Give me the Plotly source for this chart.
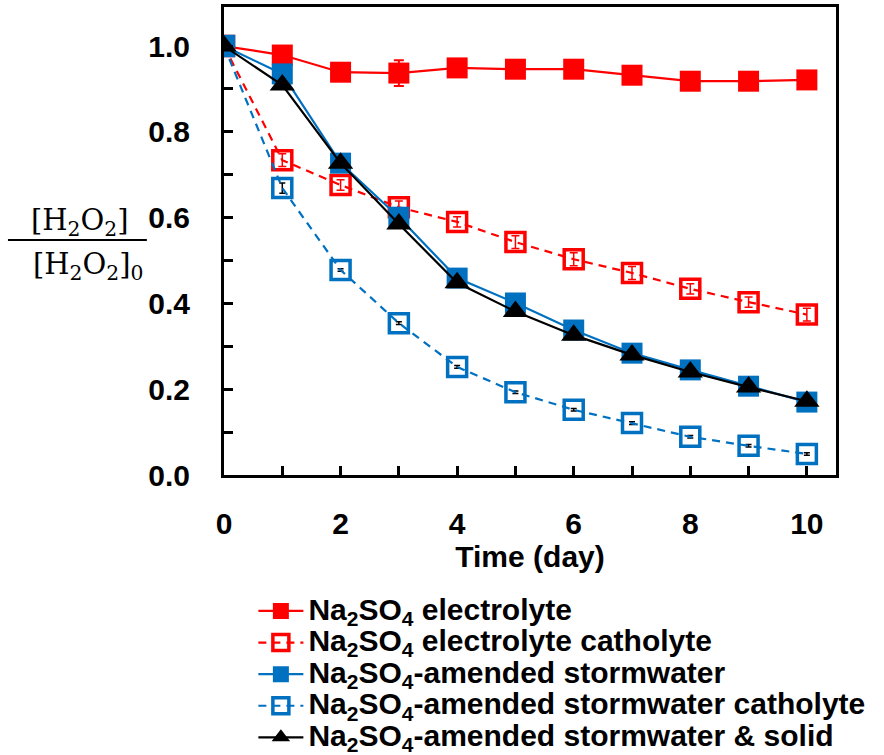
import plotly.graph_objects as go

# Time points (day)
days = [0, 1, 2, 3, 4, 5, 6, 7, 8, 9, 10]

# Normalised H2O2 concentration [H2O2]/[H2O2]0 for each condition
na2so4_electrolyte = [1.0, 0.979, 0.939, 0.937, 0.949, 0.946, 0.946, 0.932, 0.918, 0.918, 0.921]
na2so4_electrolyte_err = [0.0, 0.015, 0.01, 0.03, 0.01, 0.02, 0.01, 0.006, 0.006, 0.006, 0.006]

na2so4_catholyte = [1.0, 0.734, 0.676, 0.624, 0.590, 0.543, 0.503, 0.471, 0.434, 0.403, 0.374]
na2so4_catholyte_err = [0.0, 0.015, 0.012, 0.015, 0.012, 0.015, 0.015, 0.015, 0.012, 0.012, 0.015]

stormwater = [1.0, 0.935, 0.727, 0.601, 0.459, 0.401, 0.338, 0.284, 0.245, 0.207, 0.170]

stormwater_catholyte = [1.0, 0.669, 0.478, 0.354, 0.252, 0.193, 0.152, 0.121, 0.089, 0.068, 0.049]
stormwater_catholyte_err = [0.0, 0.012, 0.003, 0.003, 0.003, 0.003, 0.003, 0.003, 0.003, 0.003, 0.003]

stormwater_solid = [1.0, 0.909, 0.727, 0.585, 0.448, 0.381, 0.326, 0.280, 0.240, 0.205, 0.172]

series_names = [
    "Na<sub>2</sub>SO<sub>4</sub> electrolyte",
    "Na<sub>2</sub>SO<sub>4</sub> electrolyte catholyte",
    "Na<sub>2</sub>SO<sub>4</sub>-amended stormwater",
    "Na<sub>2</sub>SO<sub>4</sub>-amended stormwater catholyte",
    "Na<sub>2</sub>SO<sub>4</sub>-amended stormwater & solid",
]

x_ticks = [0, 2, 4, 6, 8, 10]
y_ticks = [0.0, 0.2, 0.4, 0.6, 0.8, 1.0]

RED = "#FF0000"
BLUE = "#0070C0"
BLACK = "#000000"
FONT = "Arial, Liberation Sans, sans-serif"
DASH = "8px,6px"


def legend_label(name):
    # larger glyphs than the legend's row spacing font
    return f'<span style="font-size:30px">{name}</span>'


fig = go.Figure()

fig.add_trace(go.Scatter(
    x=days, y=na2so4_electrolyte, name=legend_label(series_names[0]), mode="lines+markers",
    line=dict(color=RED, width=2.2),
    marker=dict(symbol="square", size=21, color=RED),
    error_y=dict(type="data", array=na2so4_electrolyte_err, color=RED, thickness=2, width=5),
))
fig.add_trace(go.Scatter(
    x=days, y=na2so4_catholyte, name=legend_label(series_names[1]), mode="lines+markers",
    line=dict(color=RED, width=2.2, dash=DASH),
    marker=dict(symbol="square-open", size=19, color=RED, line=dict(width=3.5, color=RED)),
    error_y=dict(type="data", array=na2so4_catholyte_err, color=RED, thickness=1.5, width=4),
))
fig.add_trace(go.Scatter(
    x=days, y=stormwater, name=legend_label(series_names[2]), mode="lines+markers",
    line=dict(color=BLUE, width=2.2),
    marker=dict(symbol="square", size=21, color=BLUE),
))
fig.add_trace(go.Scatter(
    x=days, y=stormwater_catholyte, name=legend_label(series_names[3]), mode="lines+markers",
    line=dict(color=BLUE, width=2.2, dash=DASH),
    marker=dict(symbol="square-open", size=19, color=BLUE, line=dict(width=3.5, color=BLUE)),
    error_y=dict(type="data", array=stormwater_catholyte_err, color=BLACK, thickness=1.5, width=3),
))
fig.add_trace(go.Scatter(
    x=days, y=stormwater_solid, name=legend_label(series_names[4]), mode="lines+markers",
    line=dict(color=BLACK, width=2.2),
    marker=dict(symbol="triangle-up", size=22, color=BLACK),
))

axis_common = dict(
    showline=True, linecolor=BLACK, linewidth=3, mirror=True,
    ticks="inside", ticklen=9, tickwidth=3, tickcolor=BLACK,
    showgrid=False, zeroline=False,
    tickfont=dict(family=FONT, size=30, color=BLACK, weight="bold"),
)

fig.update_xaxes(
    **axis_common,
    range=[0, 10.5], tickvals=x_ticks, ticktext=[str(v) for v in x_ticks],
    minor=dict(ticks="inside", ticklen=9, tickwidth=3, tickcolor=BLACK, dtick=1, tick0=0, showgrid=False),
    ticklabelstandoff=20,
    title=dict(text="<b>Time (day)</b>", font=dict(family=FONT, size=30, color=BLACK), standoff=3),
)
fig.update_yaxes(
    **axis_common,
    range=[0, 1.091], tickvals=y_ticks, ticktext=[f"{v:.1f}" for v in y_ticks],
    minor=dict(ticks="inside", ticklen=9, tickwidth=3, tickcolor=BLACK, dtick=0.1, tick0=0, showgrid=False),
    ticklabelstandoff=25,
)

# Y-axis label drawn as a fraction [H2O2]/[H2O2]0
SERIF = "DejaVu Serif, Liberation Serif, serif"
fig.add_annotation(
    text="[H<sub>2</sub>O<sub>2</sub>]", xref="paper", yref="paper",
    x=-0.235, y=0.541, xanchor="center", yanchor="middle", showarrow=False,
    font=dict(family=SERIF, size=29, color=BLACK),
)
fig.add_annotation(
    text="[H<sub>2</sub>O<sub>2</sub>]<sub>0</sub>", xref="paper", yref="paper",
    x=-0.223, y=0.446, xanchor="center", yanchor="middle", showarrow=False,
    font=dict(family=SERIF, size=29, color=BLACK),
)
fig.add_shape(
    type="line", xref="paper", yref="paper",
    x0=-0.353, x1=-0.126, y0=0.502, y1=0.502,
    line=dict(color=BLACK, width=2),
)

fig.update_layout(
    width=884, height=755,
    margin=dict(l=224, r=48, t=7, b=280, autoexpand=False),
    paper_bgcolor="white", plot_bgcolor="white",
    font=dict(family=FONT, color=BLACK),
    showlegend=True,
    legend=dict(
        x=0.048, y=-0.246, xanchor="left", yanchor="top",
        font=dict(family=FONT, size=22, color=BLACK, weight="bold"),
        tracegroupgap=0, itemwidth=45, bgcolor="rgba(0,0,0,0)",
    ),
)

fig.write_html("out.html")
